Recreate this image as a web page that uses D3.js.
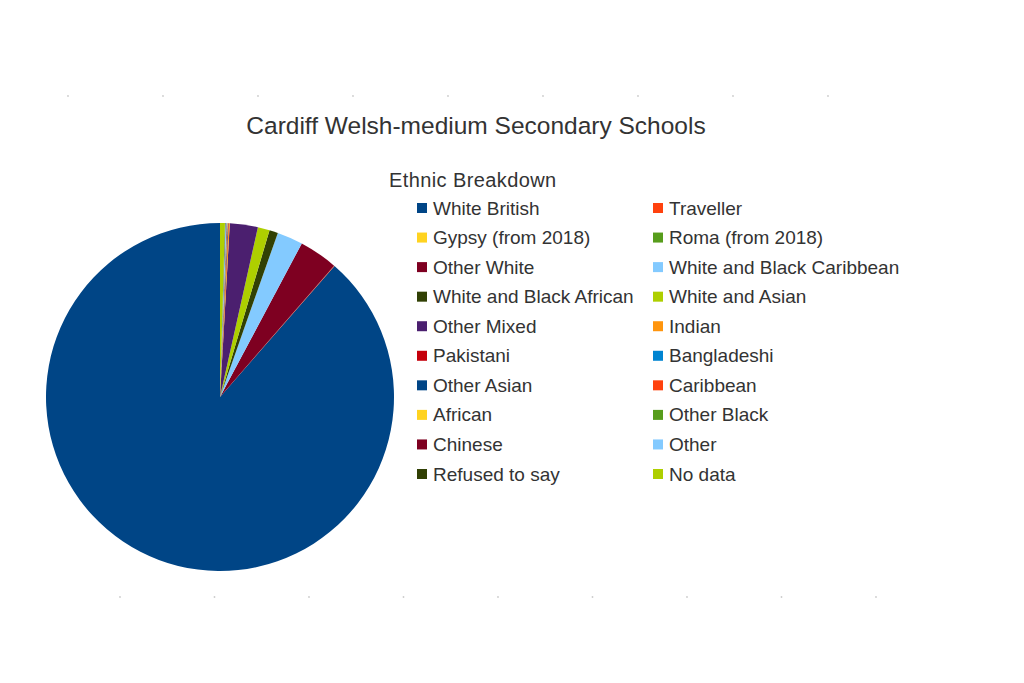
<!DOCTYPE html>
<html>
<head>
<meta charset="utf-8">
<script src="https://cdn.jsdelivr.net/npm/d3@7"></script>
<style>
  body { margin: 0; background: #fff; }
  text { font-family: "Liberation Sans", Arial, sans-serif; fill: #333; }
</style>
</head>
<body>
<div id="grafico"></div>
<script>
const ANCHO = 1024;
const ALTO = 683;

// datos (porcentajes aproximados)
const categorias = [
    "White British", "Traveller", "Gypsy (from 2018)", "Roma (from 2018)",
    "Other White", "White and Black Caribbean", "White and Black African", "White and Asian",
    "Other Mixed", "Indian", "Pakistani", "Bangladeshi",
    "Other Asian", "Caribbean", "African", "Other Black",
    "Chinese", "Other", "Refused to say", "No data"
];
const valores = [
    88.7, 0.05, 0, 0,
    3.6, 2.4, 0.8, 1.1,
    2.6, 0.1, 0.05, 0,
    0.05, 0, 0.05, 0,
    0.05, 0.1, 0.05, 0.45
];
const colores = [
    "#004586", "#ff420e", "#ffd320", "#579d1c",
    "#7e0021", "#83caff", "#314004", "#aecf00",
    "#4b1f6f", "#ff950e", "#c5000b", "#0084d1",
    "#004586", "#ff420e", "#ffd320", "#579d1c",
    "#7e0021", "#83caff", "#314004", "#aecf00"
];
const titulo = "Cardiff Welsh-medium Secondary Schools";
const tituloLeyenda = "Ethnic Breakdown";

const datos = categorias.map((c, i) => ({categoria: c, valor: valores[i], color: colores[i]}));

const $svg = d3.select("#grafico")
    .append("svg")
    .attr("width", ANCHO)
    .attr("height", ALTO);

// puntitos grises del fondo escaneado
const puntosArriba = d3.range(9).map(i => 68 + i * 95);
const puntosAbajo = d3.range(9).map(i => 120 + i * 94.5);
$svg.selectAll(".puntoArriba").data(puntosArriba).enter()
    .append("circle").attr("cx", d => d).attr("cy", 96).attr("r", 0.9).attr("fill", "#ccc");
$svg.selectAll(".puntoAbajo").data(puntosAbajo).enter()
    .append("circle").attr("cx", d => d).attr("cy", 597).attr("r", 0.9).attr("fill", "#ccc");

$svg.append("text")
    .attr("x", 476)
    .attr("y", 134)
    .attr("text-anchor", "middle")
    .style("font-size", "24.5px")
    .text(titulo);

// pastel: empieza arriba y va en sentido antihorario
const pastel = d3.pie()
    .sort(null)
    .value(d => d.valor)
    .startAngle(0)
    .endAngle(-2 * Math.PI);

const arco = d3.arc().innerRadius(0).outerRadius(174);

$svg.append("g")
    .attr("transform", "translate(220,397)")
    .selectAll("path")
    .data(pastel(datos))
    .enter()
    .append("path")
    .attr("d", arco)
    .attr("fill", d => d.data.color);

// leyenda
$svg.append("text")
    .attr("x", 389)
    .attr("y", 187)
    .style("font-size", "20px")
    .style("letter-spacing", "0.4px")
    .text(tituloLeyenda);

const columnaX = d3.scaleOrdinal().domain([0, 1]).range([417, 653]);
const filaY = d3.scaleLinear().domain([0, 9]).range([208, 474]);

const items = $svg.append("g")
    .selectAll("g")
    .data(datos)
    .enter()
    .append("g")
    .attr("transform", (d, i) => `translate(${columnaX(i % 2)},${filaY(Math.floor(i / 2))})`);

items.append("rect")
    .attr("x", 0)
    .attr("y", -5)
    .attr("width", 10)
    .attr("height", 10)
    .attr("fill", d => d.color);

items.append("text")
    .attr("x", 16)
    .attr("y", 6.5)
    .style("font-size", "19px")
    .text(d => d.categoria);
</script>
</body>
</html>
